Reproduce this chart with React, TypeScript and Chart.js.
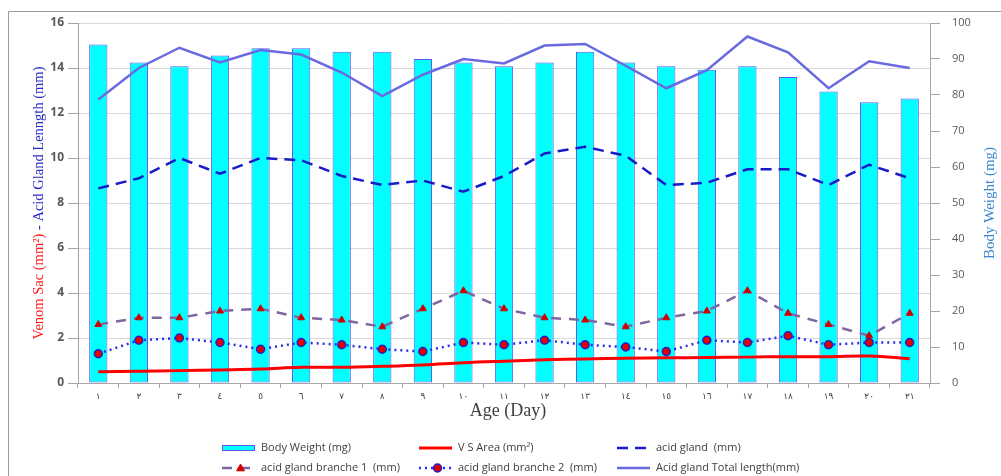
import React, { useEffect, useRef } from 'react';
import { Chart, registerables } from 'chart.js';

Chart.register(...registerables);

const days = ['١', '٢', '٣', '٤', '٥', '٦', '٧', '٨', '٩', '١٠', '١١', '١٢', '١٣', '١٤', '١٥', '١٦', '١٧', '١٨', '١٩', '٢٠', '٢١'];
const bodyWeight = [94, 89, 88, 91, 93, 93, 92, 92, 90, 89, 88, 89, 92, 89, 88, 87, 88, 85, 81, 78, 79];
const vsArea = [0.5, 0.52, 0.55, 0.58, 0.62, 0.7, 0.7, 0.74, 0.8, 0.9, 0.97, 1.03, 1.07, 1.1, 1.12, 1.13, 1.15, 1.17, 1.17, 1.2, 1.08];
const acidGland = [8.65, 9.1, 10.0, 9.3, 10.0, 9.9, 9.2, 8.8, 9.0, 8.5, 9.2, 10.2, 10.5, 10.1, 8.8, 8.9, 9.5, 9.5, 8.8, 9.7, 9.1];
const branch1 = [2.6, 2.9, 2.9, 3.2, 3.3, 2.9, 2.8, 2.5, 3.3, 4.1, 3.3, 2.9, 2.8, 2.5, 2.9, 3.2, 4.1, 3.1, 2.6, 2.1, 3.1];
const branch2 = [1.3, 1.9, 2.0, 1.8, 1.5, 1.8, 1.7, 1.5, 1.4, 1.8, 1.7, 1.9, 1.7, 1.6, 1.4, 1.9, 1.8, 2.1, 1.7, 1.8, 1.8];
const totalLength = [12.6, 14.0, 14.9, 14.25, 14.8, 14.6, 13.8, 12.75, 13.7, 14.4, 14.2, 15.0, 15.07, 14.1, 13.1, 13.9, 15.4, 14.7, 13.1, 14.3, 14.0];

const leftTitleParts = [
  { text: 'Venom Sac (mm²)', color: '#ff1a1a' },
  { text: ' - Acid Gland Lenngth (mm)', color: '#2b2bc4' },
];
const rightTitle = 'Body Weight (mg)';
const xTitle = 'Age (Day)';

const LEGEND_COLS = [222, 419, 617];
const LEGEND_ROWS = [448, 468];
const LEGEND_ORDER = [0, 1, 2, 3, 4, 5];

const decorPlugin = {
  id: 'decor',
  afterDraw(chart: any) {
    const ctx: CanvasRenderingContext2D = chart.ctx;
    const area = chart.chartArea;
    ctx.save();

    // outer frame
    ctx.strokeStyle = '#9a9a9a';
    ctx.lineWidth = 1;
    ctx.setLineDash([]);
    ctx.beginPath();
    ctx.moveTo(8.5, 476);
    ctx.lineTo(8.5, 11.5);
    ctx.lineTo(1001, 11.5);
    ctx.stroke();

    const cy = (area.top + area.bottom) / 2;

    // left title (multi-colour)
    ctx.font = '14.5px "Liberation Serif", "Times New Roman", serif';
    ctx.textBaseline = 'middle';
    ctx.textAlign = 'left';
    const total = leftTitleParts.reduce((s, p) => s + ctx.measureText(p.text).width, 0);
    ctx.save();
    ctx.translate(area.left - 39, cy);
    ctx.rotate(-Math.PI / 2);
    let x = -total / 2;
    for (const p of leftTitleParts) {
      ctx.fillStyle = p.color;
      ctx.fillText(p.text, x, 0);
      x += ctx.measureText(p.text).width;
    }
    ctx.restore();

    // right title
    ctx.save();
    ctx.font = '15px "Liberation Serif", "Times New Roman", serif';
    ctx.fillStyle = '#3a86d0';
    ctx.textAlign = 'center';
    ctx.translate(area.right + 60, cy);
    ctx.rotate(-Math.PI / 2);
    ctx.fillText(rightTitle, 0, 0);
    ctx.restore();

    // x title
    ctx.font = '18px "Liberation Serif", "Times New Roman", serif';
    ctx.fillStyle = '#404040';
    ctx.textAlign = 'center';
    ctx.fillText(xTitle, (area.left + area.right) / 2 + 4, area.bottom + 28);

    // legend
    ctx.font = '11px "Open Sans", sans-serif';
    ctx.textAlign = 'left';
    const dsets = chart.data.datasets;
    LEGEND_ORDER.forEach((di, i) => {
      const ds = dsets[di];
      const sx = LEGEND_COLS[i % 3];
      const sy = LEGEND_ROWS[Math.floor(i / 3)];
      const w = 33;
      ctx.save();
      if (ds.type === 'bar') {
        ctx.fillStyle = ds.backgroundColor;
        ctx.fillRect(sx, sy - 3, w, 6);
        ctx.strokeStyle = ds.borderColor;
        ctx.lineWidth = 1;
        ctx.strokeRect(sx + 0.5, sy - 2.5, w - 1, 5);
      } else {
        ctx.strokeStyle = ds.borderColor;
        ctx.lineWidth = ds.borderWidth;
        ctx.setLineDash(ds.borderDash || []);
        ctx.beginPath();
        ctx.moveTo(sx, sy);
        ctx.lineTo(sx + w, sy);
        ctx.stroke();
        ctx.setLineDash([]);
        if (ds.pointRadius > 0) {
          const mx = sx + w / 2 + 2;
          ctx.fillStyle = ds.pointBackgroundColor;
          ctx.strokeStyle = ds.pointBorderColor;
          ctx.lineWidth = ds.pointBorderWidth;
          const r = ds.pointRadius;
          ctx.beginPath();
          if (ds.pointStyle === 'triangle') {
            ctx.moveTo(mx, sy - r);
            ctx.lineTo(mx + r, sy + r * 0.7);
            ctx.lineTo(mx - r, sy + r * 0.7);
            ctx.closePath();
          } else {
            ctx.arc(mx, sy, r, 0, Math.PI * 2);
          }
          ctx.fill();
          ctx.stroke();
        }
      }
      ctx.restore();
      ctx.fillStyle = '#404040';
      ctx.fillText(ds.label, sx + 39, sy);
    });

    ctx.restore();
  },
};

export default function App() {
  const ref = useRef<HTMLCanvasElement>(null);

  useEffect(() => {
    if (!ref.current) return;
    const chart = new Chart(ref.current, {
      type: 'bar',
      data: {
        labels: days,
        datasets: [
          {
            type: 'bar',
            label: 'Body Weight (mg)',
            data: bodyWeight,
            yAxisID: 'y1',
            backgroundColor: '#00ffff',
            borderColor: '#5b5bf0',
            borderWidth: 1,
            borderSkipped: false,
            barPercentage: 0.45,
            categoryPercentage: 1,
            order: 1,
          },
          {
            type: 'line',
            label: 'V S Area (mm²)',
            data: vsArea,
            yAxisID: 'y',
            borderColor: '#ff0000',
            backgroundColor: '#ff0000',
            borderWidth: 3,
            pointRadius: 0,
            tension: 0.4,
            order: 0,
          },
          {
            type: 'line',
            label: 'acid gland  (mm)',
            data: acidGland,
            yAxisID: 'y',
            borderColor: '#1a1ac8',
            backgroundColor: '#1a1ac8',
            borderWidth: 2.5,
            borderDash: [11, 7],
            pointRadius: 0,
            tension: 0,
            order: 0,
          },
          {
            type: 'line',
            label: 'acid gland branche 1  (mm)',
            data: branch1,
            yAxisID: 'y',
            borderColor: '#80669e',
            backgroundColor: '#80669e',
            borderWidth: 2.5,
            borderDash: [10, 8],
            pointStyle: 'triangle',
            pointRadius: 4,
            pointBackgroundColor: '#d00000',
            pointBorderColor: '#d00000',
            pointBorderWidth: 1,
            tension: 0,
            order: 0,
          },
          {
            type: 'line',
            label: 'acid gland branche 2  (mm)',
            data: branch2,
            yAxisID: 'y',
            borderColor: '#2c2cf0',
            backgroundColor: '#2c2cf0',
            borderWidth: 2.5,
            borderDash: [2, 4],
            pointStyle: 'circle',
            pointRadius: 4,
            pointBackgroundColor: '#e00000',
            pointBorderColor: '#2020d0',
            pointBorderWidth: 1.5,
            tension: 0,
            order: 0,
          },
          {
            type: 'line',
            label: 'Acid gland Total length(mm)',
            data: totalLength,
            yAxisID: 'y',
            borderColor: '#6a6ae0',
            backgroundColor: '#6a6ae0',
            borderWidth: 2.5,
            pointRadius: 0,
            tension: 0,
            order: 0,
          },
        ],
      } as any,
      options: {
        responsive: false,
        animation: false,
        events: [],
        layout: { padding: { left: 0, right: 0, top: 23, bottom: 0 } },
        plugins: {
          legend: { display: false },
          tooltip: { enabled: false },
          title: { display: false },
        },
        scales: {
          x: {
            type: 'category',
            offset: true,
            grid: { offset: true, drawOnChartArea: false, drawTicks: true, tickLength: 5, color: '#a6a6a6' },
            border: { color: '#a6a6a6' },
            ticks: { font: { family: '"DejaVu Sans", sans-serif', size: 9 }, color: '#404040', padding: 3, maxRotation: 0, autoSkip: false },
            afterFit: (s: any) => { s.height = 93; },
          },
          y: {
            position: 'left',
            min: 0,
            max: 16,
            ticks: { stepSize: 2, font: { family: '"Open Sans", sans-serif', size: 12, weight: 'bold' }, color: '#595959', padding: 4 },
            grid: { color: '#d9d9d9', tickLength: 10, tickColor: '#a6a6a6' },
            border: { color: '#a6a6a6' },
            afterFit: (s: any) => { s.width = 78; },
          },
          y1: {
            position: 'right',
            min: 0,
            max: 100,
            ticks: { stepSize: 10, font: { family: '"Open Sans", sans-serif', size: 11 }, color: '#595959', padding: 12 },
            grid: { drawOnChartArea: false, tickLength: 10, color: '#a6a6a6' },
            border: { color: '#a6a6a6' },
            afterFit: (s: any) => { s.width = 71; },
          },
        },
      } as any,
      plugins: [decorPlugin],
    });
    return () => chart.destroy();
  }, []);

  return (
    <div style={{ position: 'fixed', left: 0, top: 0, width: 1001, height: 476, background: '#ffffff' }}>
      <canvas ref={ref} width={1001} height={476} style={{ display: 'block' }} />
    </div>
  );
}
